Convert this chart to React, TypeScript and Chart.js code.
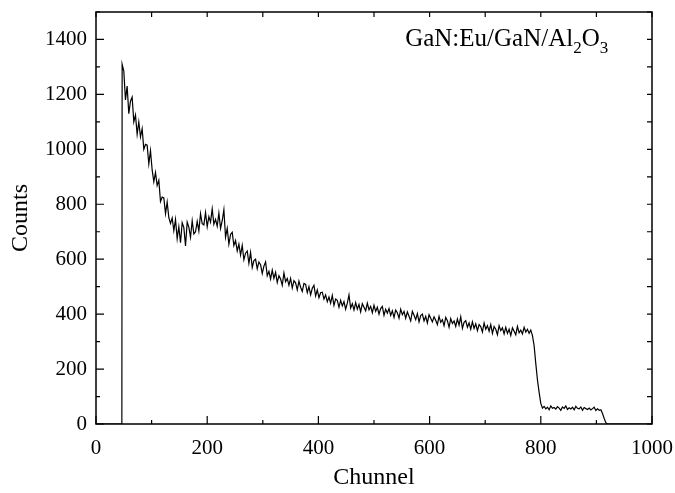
import React, { useEffect, useRef } from "react";
import { Chart, registerables } from "chart.js";

Chart.register(...registerables);

// Channel grid of the spectrum (first channel, spacing)
const CHANNEL_START = 47;
const CHANNEL_STEP = 3;

// Counts, one value per channel of the grid above
const COUNTS: number[] = [
  1310, 1285, 1180, 1230, 1130, 1175, 1190, 1100, 1125, 1055,
  1100, 1045, 1075, 1000, 1018, 1015, 947, 995, 925, 882,
  916, 868, 887, 810, 826, 823, 766, 808, 751, 730,
  750, 704, 745, 675, 718, 660, 733, 715, 648, 735,
  717, 680, 740, 692, 700, 738, 703, 766, 729, 725,
  770, 718, 755, 735, 783, 727, 745, 720, 768, 712,
  740, 780, 680, 712, 655, 690, 698, 650, 668, 630,
  655, 615, 650, 598, 622, 630, 585, 625, 570, 595,
  600, 565, 590, 580, 548, 575, 590, 540, 556, 528,
  560, 530, 552, 515, 540, 528, 505, 550, 518, 530,
  505, 530, 495, 522, 514, 488, 520, 498, 483, 512,
  508, 478, 500, 470, 494, 505, 466, 488, 460, 478,
  480, 455, 470, 445, 462, 440, 468, 432, 455, 450,
  425, 450, 430, 446, 418, 440, 470, 422, 438, 415,
  442, 418, 435, 408, 438, 425, 412, 440, 416, 428,
  405, 432, 410, 425, 400, 420, 428, 396, 418, 404,
  420, 395, 412, 388, 415, 405, 385, 418, 398, 410,
  385, 408, 392, 375, 410, 396, 380, 402, 372, 395,
  400, 375, 392, 368, 398, 385, 372, 390, 378, 362,
  392, 370, 380, 358, 388, 376, 352, 384, 366, 375,
  355, 382, 360, 390, 348, 370, 376, 352, 368, 345,
  372, 348, 365, 340, 362, 355, 335, 368, 345, 358,
  338, 362, 330, 355, 345, 325, 358, 340, 350, 328,
  352, 330, 345, 322, 350, 338, 325, 355, 332, 342,
  328, 352, 335, 345, 330, 342, 322, 285, 220, 160,
  115, 75, 58, 64, 55, 61, 52, 66, 57, 60,
  54, 63, 58, 50, 62, 57, 66, 53, 59, 55,
  61, 52, 64, 57, 55, 62, 50, 60, 56, 53,
  58, 51, 56, 61, 49, 55, 50, 52, 38, 20,
  5, 0,
];

// Zero baseline before the edge and after the last channel
const LEAD_CHANNELS = [0, 46.5];
const LEAD_COUNTS = [0, 0];
const TAIL_CHANNELS = [1000];
const TAIL_COUNTS = [0];

// Axis ticks
const X_MAJOR_TICKS = [0, 200, 400, 600, 800, 1000];
const X_MINOR_TICKS = [100, 300, 500, 700, 900];
const Y_MAJOR_TICKS = [0, 200, 400, 600, 800, 1000, 1200, 1400];
const Y_MINOR_TICKS = [100, 300, 500, 700, 900, 1100, 1300, 1500];

const X_TITLE = "Chunnel";
const Y_TITLE = "Counts";
const LABEL_PARTS = [
  { text: "GaN:Eu/GaN/Al", sub: false },
  { text: "2", sub: true },
  { text: "O", sub: false },
  { text: "3", sub: true },
];
const LABEL_AT = { x: 556, y: 1375 };

const FONT = "'Liberation Serif', 'Times New Roman', serif";

const noScalePadding = (s: any) => {
  s.paddingLeft = 0;
  s.paddingRight = 0;
  s.paddingTop = 0;
  s.paddingBottom = 0;
};

export default function App() {
  const ref = useRef<HTMLCanvasElement | null>(null);

  useEffect(() => {
    if (!ref.current) return;
    const data: { x: number; y: number }[] = [];
    LEAD_CHANNELS.forEach((c, i) => data.push({ x: c, y: LEAD_COUNTS[i] }));
    COUNTS.forEach((v, i) => data.push({ x: CHANNEL_START + i * CHANNEL_STEP, y: v }));
    TAIL_CHANNELS.forEach((c, i) => data.push({ x: c, y: TAIL_COUNTS[i] }));

    const framePlugin = {
      id: "frame",
      afterDraw(chart: any) {
        const { ctx, chartArea } = chart;
        const xs = chart.scales.x;
        const ys = chart.scales.y;
        const { left, right, top, bottom } = chartArea;
        ctx.save();
        ctx.strokeStyle = "#000";
        ctx.lineWidth = 1.5;
        ctx.beginPath();
        ctx.rect(left, top, right - left, bottom - top);
        ctx.stroke();
        ctx.lineWidth = 1.2;
        ctx.beginPath();
        const tick = (x1: number, y1: number, x2: number, y2: number) => {
          ctx.moveTo(x1, y1);
          ctx.lineTo(x2, y2);
        };
        X_MAJOR_TICKS.forEach((v) => {
          const p = xs.getPixelForValue(v);
          tick(p, bottom, p, bottom - 8);
          tick(p, top, p, top + 5);
        });
        X_MINOR_TICKS.forEach((v) => {
          const p = xs.getPixelForValue(v);
          tick(p, bottom, p, bottom - 4);
          tick(p, top, p, top + 5);
        });
        Y_MAJOR_TICKS.forEach((v) => {
          const p = ys.getPixelForValue(v);
          tick(left, p, left + 8, p);
          tick(right, p, right - 5, p);
        });
        Y_MINOR_TICKS.forEach((v) => {
          const p = ys.getPixelForValue(v);
          tick(left, p, left + 4, p);
          tick(right, p, right - 5, p);
        });
        ctx.stroke();

        // annotation
        let x = xs.getPixelForValue(LABEL_AT.x);
        const base = ys.getPixelForValue(LABEL_AT.y);
        ctx.fillStyle = "#000";
        ctx.textBaseline = "alphabetic";
        ctx.textAlign = "left";
        LABEL_PARTS.forEach((part) => {
          ctx.font = part.sub ? `17px ${FONT}` : `25px ${FONT}`;
          ctx.fillText(part.text, x, part.sub ? base + 7 : base);
          x += ctx.measureText(part.text).width;
        });
        ctx.restore();
      },
    };

    const chart = new Chart(ref.current, {
      type: "line",
      data: {
        datasets: [
          {
            data,
            borderColor: "#000",
            borderWidth: 1.2,
            pointRadius: 0,
            tension: 0,
            fill: false,
          },
        ],
      },
      options: {
        animation: false,
        responsive: true,
        maintainAspectRatio: false,
        layout: { padding: { top: 12, right: 23, left: 0, bottom: 0 } },
        plugins: { legend: { display: false }, tooltip: { enabled: false } },
        scales: {
          x: {
            type: "linear",
            min: 0,
            max: 1000,
            grid: { display: false, drawTicks: false },
            border: { display: false },
            afterFit: (s: any) => {
              s.height = 69;
              noScalePadding(s);
            },
            afterBuildTicks: (s: any) => {
              s.ticks = X_MAJOR_TICKS.map((v) => ({ value: v }));
            },
            ticks: {
              color: "#000",
              font: { family: FONT, size: 21 },
              padding: 12,
              maxRotation: 0,
              callback: (v: any) => String(v),
            },
            title: {
              display: true,
              text: X_TITLE,
              color: "#000",
              font: { family: FONT, size: 24 },
              padding: { top: 0, bottom: 1 },
            },
          },
          y: {
            type: "linear",
            min: 0,
            max: 1500,
            grid: { display: false, drawTicks: false },
            border: { display: false },
            afterFit: (s: any) => {
              s.width = 96;
              noScalePadding(s);
            },
            afterBuildTicks: (s: any) => {
              s.ticks = Y_MAJOR_TICKS.map((v) => ({ value: v }));
            },
            ticks: {
              color: "#000",
              font: { family: FONT, size: 21 },
              padding: 9,
              callback: (v: any) => String(v),
            },
            title: {
              display: true,
              text: Y_TITLE,
              color: "#000",
              font: { family: FONT, size: 24 },
              padding: { top: 6, bottom: 0 },
            },
          },
        },
      },
      plugins: [framePlugin],
    });
    return () => chart.destroy();
  }, []);

  return (
    <div style={{ position: "fixed", left: 0, top: 0, width: 675, height: 493 }}>
      <canvas ref={ref} />
    </div>
  );
}
